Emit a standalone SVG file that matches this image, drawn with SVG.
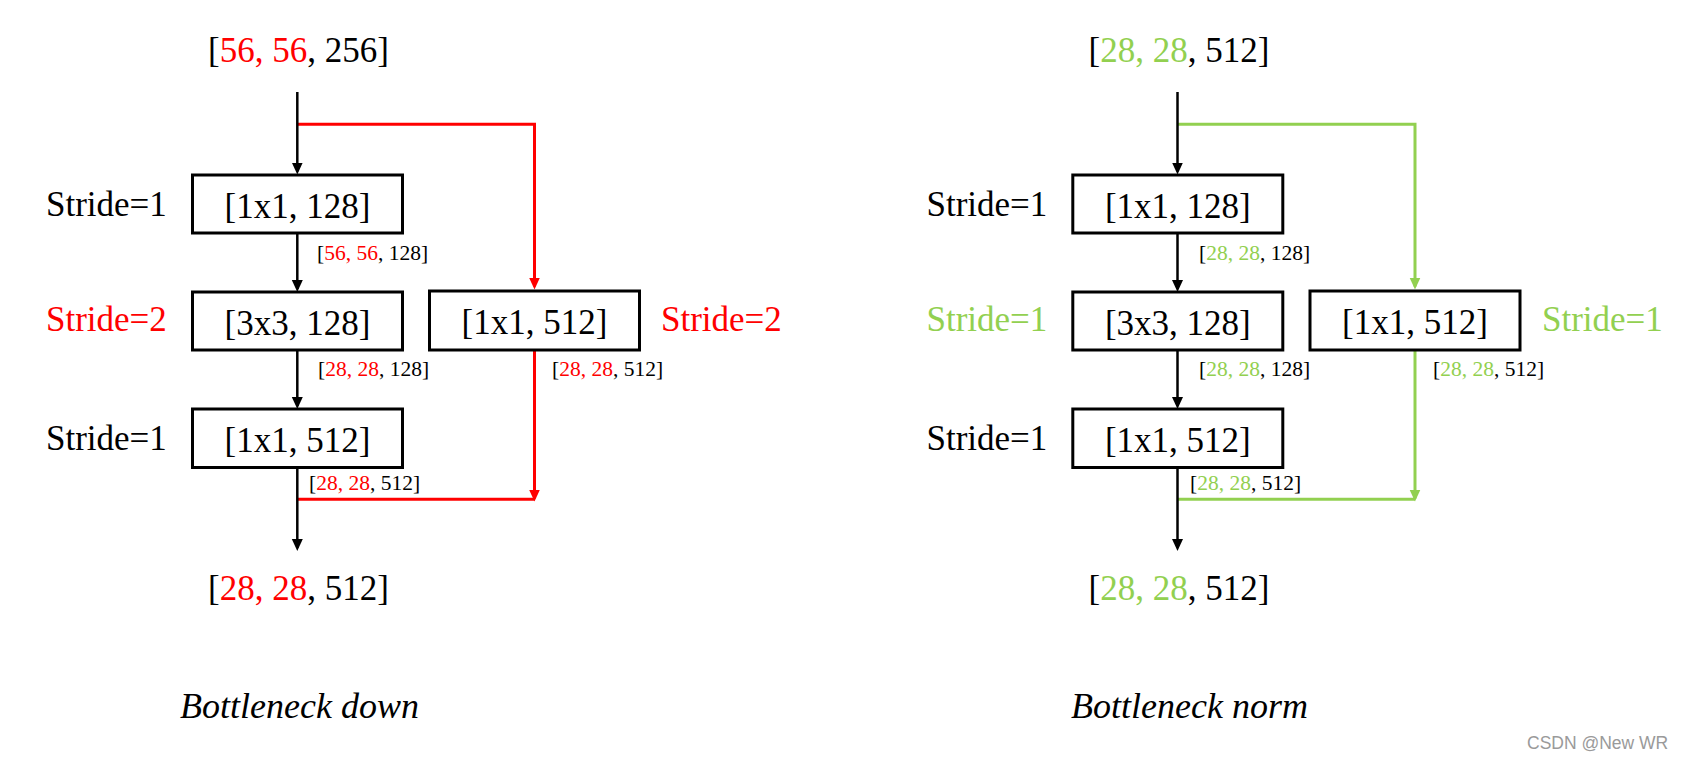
<svg xmlns="http://www.w3.org/2000/svg" width="1683" height="758" viewBox="0 0 1683 758">
<style>
text{font-family:"Liberation Serif","Times New Roman",serif;fill:#000}
.big{font-size:35px}
.sm{font-size:21.5px}
.mid{text-anchor:middle}
.r{fill:#FF0000}
.g{fill:#92D050}
.box{fill:#fff;stroke:#000;stroke-width:3}
.lk{fill:none;stroke:#000;stroke-width:2.5}
.lr{fill:none;stroke:#FF0000;stroke-width:3}
.lg{fill:none;stroke:#92D050;stroke-width:3}
.cap{font-style:italic;font-size:36px}
.wm{font-family:"Liberation Sans",Arial,sans-serif;font-size:17.5px;fill:#9a9a9a}
</style>
<defs>
<marker id="ak" markerUnits="userSpaceOnUse" markerWidth="12" markerHeight="12" viewBox="0 0 12 12" refX="9" refY="6" orient="auto"><path d="M0,0.5 L12,6 L0,11.5 z" fill="#000"/></marker>
<marker id="ar" markerUnits="userSpaceOnUse" markerWidth="12" markerHeight="12" viewBox="0 0 12 12" refX="9" refY="6" orient="auto"><path d="M0,0.5 L12,6 L0,11.5 z" fill="#FF0000"/></marker>
<marker id="ag" markerUnits="userSpaceOnUse" markerWidth="12" markerHeight="12" viewBox="0 0 12 12" refX="9" refY="6" orient="auto"><path d="M0,0.5 L12,6 L0,11.5 z" fill="#92D050"/></marker>
</defs>

<g id="connectors">
<!-- left -->
<path class="lr" d="M297.3,124.3 H534.5 V286.5" marker-end="url(#ar)"/>
<path class="lr" d="M534.5,350 V498.5" marker-end="url(#ar)"/>
<path class="lr" d="M297.3,499.3 H534.5"/>
<path class="lk" d="M297.3,92 V171.5" marker-end="url(#ak)"/>
<path class="lk" d="M297.3,233 V289" marker-end="url(#ak)"/>
<path class="lk" d="M297.3,350 V406" marker-end="url(#ak)"/>
<path class="lk" d="M297.3,467.5 V548" marker-end="url(#ak)"/>
<!-- right -->
<path class="lg" d="M1177.5,124.3 H1415 V286.5" marker-end="url(#ag)"/>
<path class="lg" d="M1415,350 V498.5" marker-end="url(#ag)"/>
<path class="lg" d="M1177.5,499.3 H1415"/>
<path class="lk" d="M1177.5,92 V171.5" marker-end="url(#ak)"/>
<path class="lk" d="M1177.5,233 V289" marker-end="url(#ak)"/>
<path class="lk" d="M1177.5,350 V406" marker-end="url(#ak)"/>
<path class="lk" d="M1177.5,467.5 V548" marker-end="url(#ak)"/>
</g>

<!-- Left: Bottleneck down -->
<g id="left-input"><text class="big mid" x="298.5" y="62">[<tspan class="r">56, 56</tspan>, 256]</text></g>
<g id="left-conv1">
<rect class="box" x="192.5" y="175" width="210" height="58"/>
<text class="big mid" x="297.5" y="218">[1x1, 128]</text>
<text class="big" x="46" y="216">Stride=1</text>
</g>
<g id="left-lbl1"><text class="sm" x="317" y="260">[<tspan class="r">56, 56</tspan>, 128]</text></g>
<g id="left-conv2">
<rect class="box" x="192.5" y="292" width="210" height="58"/>
<text class="big mid" x="297.5" y="334.5">[3x3, 128]</text>
<text class="big r" x="46" y="331">Stride=2</text>
</g>
<g id="left-short">
<rect class="box" x="429.5" y="291" width="210" height="59"/>
<text class="big mid" x="534.5" y="333.5">[1x1, 512]</text>
<text class="big r" x="661" y="331">Stride=2</text>
</g>
<g id="left-lbl2"><text class="sm" x="318" y="376">[<tspan class="r">28, 28</tspan>, 128]</text></g>
<g id="left-lbl3"><text class="sm" x="552" y="376">[<tspan class="r">28, 28</tspan>, 512]</text></g>
<g id="left-conv3">
<rect class="box" x="192.5" y="409" width="210" height="58.5"/>
<text class="big mid" x="297.5" y="451.5">[1x1, 512]</text>
<text class="big" x="46" y="450">Stride=1</text>
</g>
<g id="left-lbl4"><text class="sm" x="309" y="490">[<tspan class="r">28, 28</tspan>, 512]</text></g>
<g id="left-output"><text class="big mid" x="298.5" y="600">[<tspan class="r">28, 28</tspan>, 512]</text></g>
<g id="left-caption"><text class="cap" x="180" y="718">Bottleneck down</text></g>

<!-- Right: Bottleneck norm -->
<g id="right-input"><text class="big mid" x="1179" y="62">[<tspan class="g">28, 28</tspan>, 512]</text></g>
<g id="right-conv1">
<rect class="box" x="1072.8" y="175" width="210" height="58"/>
<text class="big mid" x="1177.8" y="218">[1x1, 128]</text>
<text class="big" x="926.5" y="216">Stride=1</text>
</g>
<g id="right-lbl1"><text class="sm" x="1199" y="260">[<tspan class="g">28, 28</tspan>, 128]</text></g>
<g id="right-conv2">
<rect class="box" x="1072.8" y="292" width="210" height="58"/>
<text class="big mid" x="1177.8" y="334.5">[3x3, 128]</text>
<text class="big g" x="926.5" y="331">Stride=1</text>
</g>
<g id="right-short">
<rect class="box" x="1310" y="291" width="210" height="59"/>
<text class="big mid" x="1415" y="333.5">[1x1, 512]</text>
<text class="big g" x="1542" y="331">Stride=1</text>
</g>
<g id="right-lbl2"><text class="sm" x="1199" y="376">[<tspan class="g">28, 28</tspan>, 128]</text></g>
<g id="right-lbl3"><text class="sm" x="1433" y="376">[<tspan class="g">28, 28</tspan>, 512]</text></g>
<g id="right-conv3">
<rect class="box" x="1072.8" y="409" width="210" height="58.5"/>
<text class="big mid" x="1177.8" y="451.5">[1x1, 512]</text>
<text class="big" x="926.5" y="450">Stride=1</text>
</g>
<g id="right-lbl4"><text class="sm" x="1190" y="490">[<tspan class="g">28, 28</tspan>, 512]</text></g>
<g id="right-output"><text class="big mid" x="1179" y="600">[<tspan class="g">28, 28</tspan>, 512]</text></g>
<g id="right-caption"><text class="cap" x="1071" y="718">Bottleneck norm</text></g>

<text class="wm" x="1527" y="749">CSDN @New WR</text>
</svg>
